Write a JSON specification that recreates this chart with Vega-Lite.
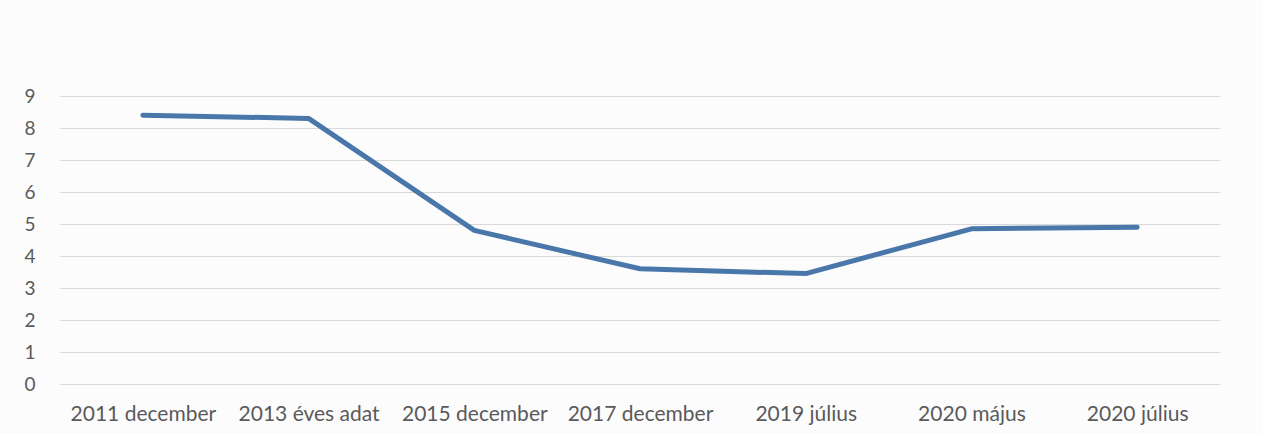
{
  "$schema": "https://vega.github.io/schema/vega-lite/v6.json",
  "autosize": {"type": "none"},
  "padding": {"left": 60, "top": 96, "right": 43, "bottom": 50},
  "width": 1160,
  "height": 288,
  "background": "#fcfcfd",
  "config": {"view": {"stroke": null}, "font": "Lato"},
  "data": {"values": [
    {"idopont": "2011 december", "ertek": 8.4},
    {"idopont": "2013 éves adat", "ertek": 8.3},
    {"idopont": "2015 december", "ertek": 4.8},
    {"idopont": "2017 december", "ertek": 3.6},
    {"idopont": "2019 július", "ertek": 3.45},
    {"idopont": "2020 május", "ertek": 4.85},
    {"idopont": "2020 július", "ertek": 4.9}
  ]},
  "mark": {"type": "line", "color": "#4a77aa", "strokeWidth": 5, "strokeCap": "round", "strokeJoin": "round"},
  "encoding": {
    "x": {"field": "idopont", "type": "ordinal", "sort": null, "scale": {"type": "point", "padding": 0.5},
      "axis": {"title": null, "labelAngle": 0, "domain": false, "ticks": false, "labelPadding": 19, "labelFontSize": 21, "labelColor": "#5a5a5a", "grid": false}},
    "y": {"field": "ertek", "type": "quantitative", "scale": {"domain": [0, 9]},
      "axis": {"title": null, "values": [0,1,2,3,4,5,6,7,8,9], "domain": false, "ticks": false, "labelPadding": 25, "labelFontSize": 19, "labelColor": "#5a5a5a", "gridColor": "#d9d9d9", "gridWidth": 1}}
  }
}
